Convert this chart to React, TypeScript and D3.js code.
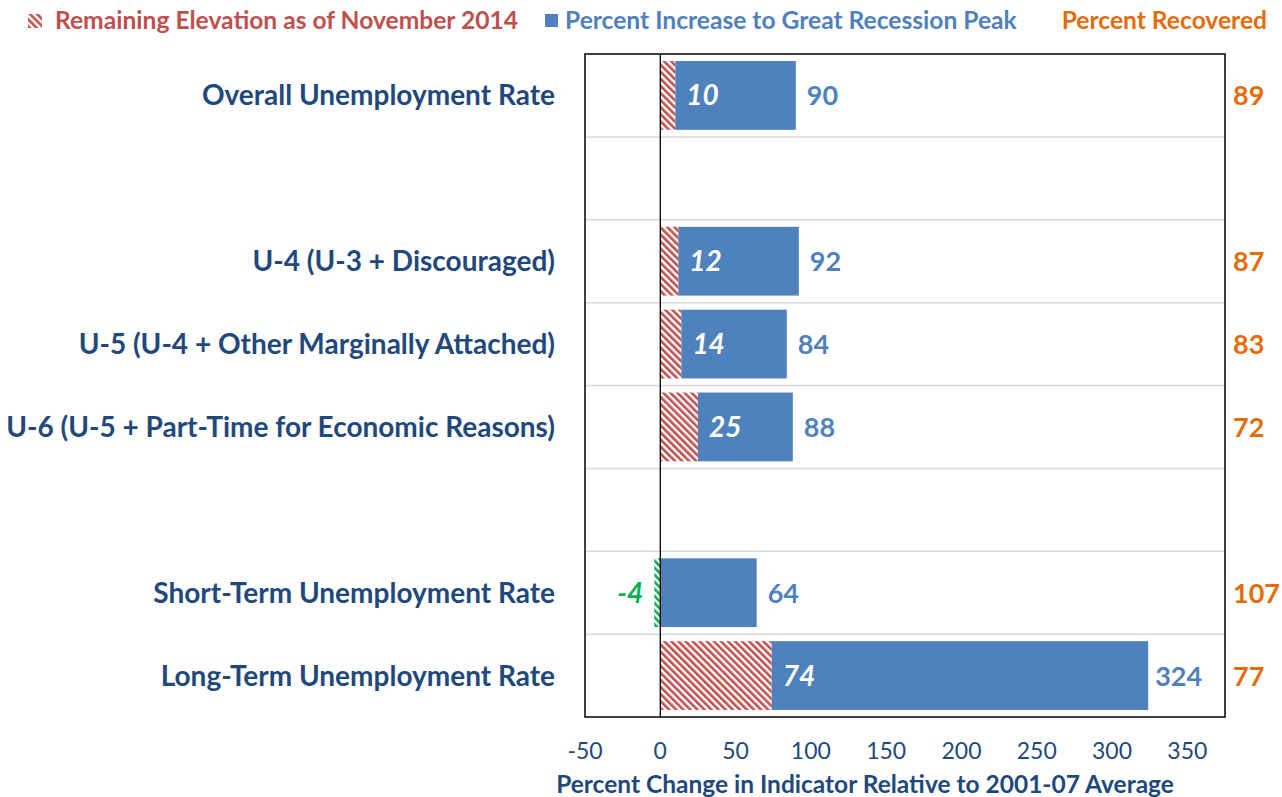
import React from "react";
import * as d3 from "d3";

const categories = [
  "Overall Unemployment Rate",
  "",
  "U-4 (U-3 + Discouraged)",
  "U-5 (U-4 + Other Marginally Attached)",
  "U-6 (U-5 + Part-Time for Economic Reasons)",
  "",
  "Short-Term Unemployment Rate",
  "Long-Term Unemployment Rate",
];
const remaining: (number | null)[] = [10, null, 12, 14, 25, null, -4, 74];
const peak: (number | null)[] = [90, null, 92, 84, 88, null, 64, 324];
const recovered: (number | null)[] = [89, null, 87, 83, 72, null, 107, 77];
const xTicks = [-50, 0, 50, 100, 150, 200, 250, 300, 350];

const FONT = "Lato, 'Open Sans', sans-serif";
const NAVY = "#1F497D";
const BLUE = "#4F81BD";
const RED = "#C0504D";
const ORANGE = "#E46C0A";
const GREEN = "#00B050";

export default function App() {
  const W = 1282, H = 797;
  const left = 585, right = 1225, top = 54, bottom = 717;
  const x = d3.scaleLinear().domain([-50, 375]).range([left, right]);
  const y = d3
    .scaleBand<number>()
    .domain(categories.map((_, i) => i))
    .range([top, bottom])
    .paddingInner(0.17)
    .paddingOuter(0.085);
  const step = y.step();
  const rowTop = (i: number) => top + i * step;

  return (
    <svg width={W} height={H} style={{ position: "absolute", left: 0, top: 0, background: "#fff" }} fontFamily={FONT}>
      <defs>
        <pattern id="hatchRed" patternUnits="userSpaceOnUse" width="5" height="5" patternTransform="rotate(-45)">
          <rect width="5" height="5" fill="#fff" />
          <rect width="2.6" height="5" fill={RED} />
        </pattern>
        <pattern id="hatchGreen" patternUnits="userSpaceOnUse" width="5" height="5" patternTransform="rotate(-45)">
          <rect width="5" height="5" fill="#fff" />
          <rect width="2.6" height="5" fill={GREEN} />
        </pattern>
      </defs>
      <rect x={0} y={0} width={W} height={H} fill="#fff" />

      {/* Legend */}
      <rect x={28} y={14} width={14} height={14} fill="url(#hatchRed)" />
      <text x={55} y={29} fontSize={24.6} fontWeight={700} fill={RED}>
        Remaining Elevation as of November 2014
      </text>
      <rect x={545} y={14} width={13} height={13} fill={BLUE} />
      <text x={565} y={29} fontSize={24.6} fontWeight={700} fill={BLUE}>
        Percent Increase to Great Recession Peak
      </text>
      <text x={1267} y={29} fontSize={24.6} fontWeight={700} fill={ORANGE} textAnchor="end">
        Percent Recovered
      </text>

      {/* gridlines */}
      {categories.slice(1).map((_, i) => (
        <line key={"g" + i} x1={left} x2={right} y1={rowTop(i + 1)} y2={rowTop(i + 1)} stroke="#d9d9d9" strokeWidth={1.5} />
      ))}

      {/* bars */}
      {categories.map((c, i) => {
        const r = remaining[i];
        const p = peak[i];
        if (r === null || p === null) return null;
        const by = y(i)!;
        const bh = y.bandwidth();
        const blueStart = r > 0 ? r : 0;
        return (
          <g key={"b" + i}>
            <rect
              x={Math.min(x(0), x(r))}
              y={by}
              width={Math.abs(x(r) - x(0))}
              height={bh}
              fill={r > 0 ? "url(#hatchRed)" : "url(#hatchGreen)"}
            />
            <rect x={x(blueStart)} y={by} width={x(p) - x(blueStart)} height={bh} fill={BLUE} />
          </g>
        );
      })}

      {/* zero line */}
      <line x1={x(0)} x2={x(0)} y1={top} y2={bottom} stroke="#000" strokeWidth={1.3} />
      {/* plot border */}
      <rect x={left} y={top} width={right - left} height={bottom - top} fill="none" stroke="#000" strokeWidth={1.5} />

      {/* labels */}
      {categories.map((c, i) => {
        const cy = y(i)! + y.bandwidth() / 2 + 10;
        const r = remaining[i];
        const p = peak[i];
        const rc = recovered[i];
        return (
          <g key={"l" + i}>
            {c && (
              <text x={555} y={cy} fontSize={28} fontWeight={700} fill={NAVY} textAnchor="end">
                {c}
              </text>
            )}
            {r !== null && r > 0 && (
              <text x={x(r) + 11} y={cy} fontSize={28} fontWeight={700} fontStyle="italic" fill="#fff">
                {r}
              </text>
            )}
            {r !== null && r < 0 && (
              <text x={x(r) - 11} y={cy} fontSize={28} fontWeight={700} fontStyle="italic" fill={GREEN} textAnchor="end">
                {r}
              </text>
            )}
            {p !== null && (
              <text x={x(p) + (p > 300 ? 7 : 11)} y={cy} fontSize={27} fontWeight={700} fill={BLUE}>
                {p}
              </text>
            )}
            {rc !== null && (
              <text x={1233} y={cy} fontSize={27} fontWeight={700} fill={ORANGE}>
                {rc}
              </text>
            )}
          </g>
        );
      })}

      {/* x axis ticks */}
      {xTicks.map((t) => (
        <text key={"t" + t} x={x(t)} y={759} fontSize={23} fill={NAVY} textAnchor="middle">
          {t}
        </text>
      ))}
      <text x={865} y={793} fontSize={24.5} fontWeight={700} fill={NAVY} textAnchor="middle">
        Percent Change in Indicator Relative to 2001-07 Average
      </text>
    </svg>
  );
}
